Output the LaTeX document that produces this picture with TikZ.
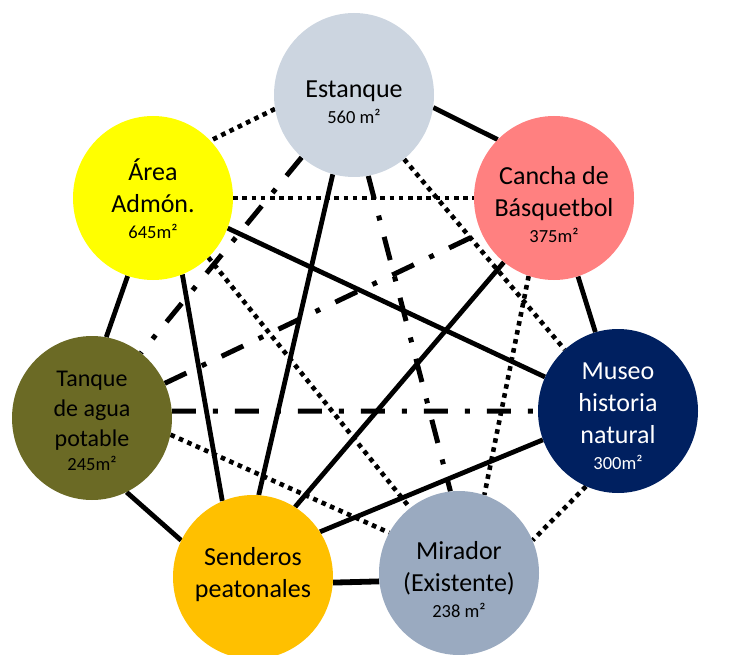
\documentclass[tikz,border=0pt]{standalone}
\usepackage{fontspec}
\setmainfont{Carlito}
\usetikzlibrary{shapes.geometric}
\pgfdeclarelayer{bg}
\pgfsetlayers{bg,main}
\definecolor{cEst}{HTML}{CCD5E0}
\definecolor{cCan}{HTML}{FF8080}
\definecolor{cArea}{HTML}{FFFF00}
\definecolor{cTan}{HTML}{6B6A25}
\definecolor{cMus}{HTML}{002060}
\definecolor{cSen}{HTML}{FFC000}
\definecolor{cMir}{HTML}{9AAAC0}
\newcommand\smtxt[1]{{\fontsize{18.5}{32}\selectfont #1}}
\tikzset{
  place/.style={ellipse, minimum width=160pt, minimum height=164pt, inner sep=0pt, draw=none},
  lbl/.style={align=center, font=\fontsize{26}{32}\selectfont, inner sep=0pt},
  solidl/.style={line width=4.8pt},
  dotl/.style={line width=4.6pt, dash pattern=on 4.6pt off 4.6pt},
  dashdotl/.style={line width=5pt, dash pattern=on 24pt off 17pt on 5pt off 17pt},
}
\begin{document}
\begin{tikzpicture}[x=1pt,y=-1pt]
\useasboundingbox (0,0) rectangle (744,655);
\clip (0,0) rectangle (744,655);
% places
\node[place, fill=cEst] (E) at (354,95) {};
\node[place, fill=cCan] (C) at (554,198) {};
\node[place, fill=cArea] (A) at (153,198) {};
\node[place, fill=cMus] (M) at (618,411) {};
\node[place, fill=cTan] (T) at (92,418) {};
\node[place, fill=cSen] (S) at (253,577) {};
\node[place, fill=cMir] (R) at (459,573) {};
% labels
\node[lbl] (Et) at ([yshift=-7pt]E.center) {Estanque\\[-6pt]\smtxt{560 m²}};
\node[lbl] (Ct) at ([yshift=-7pt]C.center) {Cancha de\\Básquetbol\\[-6pt]\smtxt{375m²}};
\node[lbl] (At) at ([yshift=-1pt]A.center) {Área\\Admón.\\[-6pt]\smtxt{645m²}};
\node[lbl, font=\fontsize{24}{30}\selectfont] (Tt) at ([yshift=-3pt]T.center) {Tanque\\de agua\\potable\\[-6pt]\smtxt{245m²}};
\node[lbl, text=white] (Mt) at ([yshift=-5pt]M.center) {Museo\\historia\\natural\\[-6pt]\smtxt{300m²}};
\node[lbl] (St) at ([yshift=2pt]S.center) {Senderos\\peatonales};
\node[lbl] (Rt) at ([yshift=-7pt]R.center) {Mirador\\(Existente)\\[-6pt]\smtxt{238 m²}};
% connectors
\begin{pgfonlayer}{bg}
\draw[dotl] (E.190) -- (A.45);
\draw[solidl] (E.351) -- (C.134);
\draw[dotl] (A.0) -- (C.180);
\draw[dashdotl] (E.230) -- (T.53);
\draw[solidl] (E.255) -- (S.86);
\draw[dashdotl] (E.280) -- (R.96);
\draw[dotl] (E.308) -- (M.131);
\draw[solidl] (A.338) -- (M.155);
\draw[solidl] (A.252) -- (T.80);
\draw[solidl] (A.291) -- (S.112);
\draw[dotl] (A.313) -- (R.127);
\draw[dashdotl] (T) -- (C);
\draw[solidl] (C.232) -- (S.59);
\draw[dotl] (C.252) -- (R.72);
\draw[solidl] (C.287) -- (M.106);
\draw[dashdotl] (T.5) -- (M.180);
\draw[solidl] (M.201) -- (S.34);
\draw[dotl] (M.247) -- (R.24);
\draw[dotl] (T.348) -- (R.150);
\draw[solidl] (T.295) -- (S.153);
\draw[line width=5.8pt] (S.356) -- (R.186);
\end{pgfonlayer}
\end{tikzpicture}
\end{document}
